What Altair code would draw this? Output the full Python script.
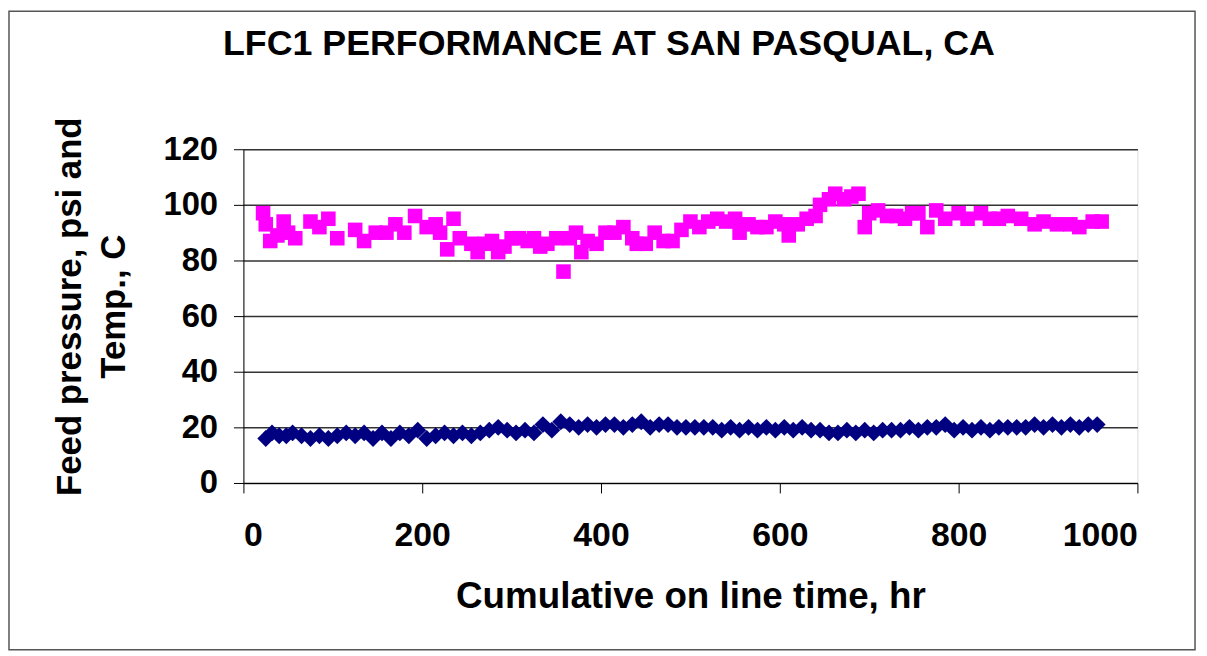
import altair as alt
import pandas as pd

# Feed pressure (psi) series - magenta squares
press_x = [22, 25, 30, 38, 45, 50, 58, 75, 85, 95, 105, 125, 135, 148, 160, 170, 180, 192, 205,
           215, 220, 228, 235, 242, 255, 262, 270, 278, 285, 292, 300, 308, 318, 325, 332, 340,
           350, 358, 365, 372, 378, 385, 395, 405, 415, 425, 435, 440, 450, 460, 470, 480, 490,
           500, 510, 520, 530, 540, 550, 555, 565, 575, 585, 595, 605, 610, 620, 630, 640, 645,
           655, 662, 672, 680, 688, 695, 700, 710, 720, 730, 740, 748, 755, 765, 775, 785, 800,
           810, 825, 835, 845, 855, 870, 885, 895, 910, 925, 935, 950, 960]
press_y = [97, 93, 87, 89, 94, 90, 88, 94, 92, 95, 88, 91, 87, 90, 90, 93, 90, 96, 92,
           93, 90, 84, 95, 88, 86, 83, 86, 87, 83, 85, 88, 88, 87, 88, 85, 86,
           88, 76, 88, 90, 83, 87, 86, 90, 90, 92, 88, 86, 86, 90, 87, 87, 91,
           94, 92, 94, 95, 94, 95, 90, 93, 92, 92, 94, 93, 89, 93, 95, 96, 100,
           102, 104, 102, 103, 104, 92, 97, 98, 96, 96, 95, 97, 97, 92, 98, 95, 97,
           95, 97, 95, 95, 96, 95, 93, 94, 93, 93, 92, 94, 94]

# Temperature (C) series - navy diamonds
temp_x = [25, 32, 40, 48, 55, 65, 75, 85, 95, 105, 115, 125, 135, 145, 155, 165, 175, 185, 195,
          205, 215, 225, 235, 245, 255, 265, 275, 285, 295, 305, 315, 325, 335, 345, 355, 365,
          375, 385, 395, 405, 415, 425, 435, 445, 455, 465, 475, 485, 495, 505, 515, 525, 535,
          545, 555, 565, 575, 585, 595, 605, 615, 625, 635, 645, 655, 665, 675, 685, 695, 705,
          715, 725, 735, 745, 755, 765, 775, 785, 795, 805, 815, 825, 835, 845, 855, 865, 875,
          885, 895, 905, 915, 925, 935, 945, 955]
temp_y = [16, 18, 17, 17, 18, 17, 16, 17, 16, 17, 18, 17, 18, 16, 18, 16, 18, 17, 19,
          16, 17, 18, 17, 18, 17, 18, 19, 20, 19, 18, 19, 18, 21, 19, 22, 21,
          20, 21, 20, 21, 21, 20, 21, 22, 20, 21, 21, 20, 20, 20, 20, 20, 19,
          20, 19, 20, 19, 20, 19, 20, 19, 20, 19, 19, 18, 18, 19, 18, 19, 18,
          19, 19, 19, 20, 19, 20, 20, 21, 19, 20, 19, 20, 19, 20, 20, 20, 20,
          21, 20, 21, 20, 21, 20, 21, 21]

x_ticks = [0, 200, 400, 600, 800, 1000]
y_ticks = [0, 20, 40, 60, 80, 100, 120]
chart_title = "LFC1 PERFORMANCE AT SAN PASQUAL, CA"

press_df = pd.DataFrame({"x": press_x, "y": press_y})
temp_df = pd.DataFrame({"x": temp_x, "y": temp_y})

FONT = "Liberation Sans"

xscale = alt.Scale(domain=[0, 1000], nice=False, zero=False)
yscale = alt.Scale(domain=[0, 120], nice=False)

xaxis = alt.Axis(values=x_ticks, format="d", title="Cumulative on line time, hr", grid=False,
                 labelFont=FONT, labelFontSize=34, labelFontWeight="bold", labelColor="black",
                 labelPadding=26, tickColor="black", tickSize=10, domainColor="black",
                 titleFont=FONT, titleFontSize=37, titleFontWeight="bold", titleColor="black",
                 titlePadding=26)
yaxis = alt.Axis(values=y_ticks, title=["Feed pressure, psi and", "Temp., C"], grid=True,
                 gridColor="#333333", gridWidth=1.5,
                 labelFont=FONT, labelFontSize=33, labelFontWeight="bold", labelColor="black",
                 labelPadding=16, tickColor="black", tickSize=10, domainColor="black",
                 titleFont=FONT, titleFontSize=35, titleFontWeight="bold", titleColor="black",
                 titlePadding=32, titleLineHeight=44, titleY=158)

temp = alt.Chart(temp_df).mark_point(shape="diamond", filled=True, size=289, opacity=1,
                                     color="#000080").encode(
    x=alt.X("x:Q", scale=xscale, axis=xaxis),
    y=alt.Y("y:Q", scale=yscale, axis=yaxis),
)
press = alt.Chart(press_df).mark_point(shape="square", filled=True, size=215, opacity=1,
                                       color="#FF00FF").encode(
    x=alt.X("x:Q", scale=xscale, axis=xaxis),
    y=alt.Y("y:Q", scale=yscale, axis=yaxis),
)

one = pd.DataFrame({"t": [chart_title]})

title = alt.Chart(one).mark_text(
    font=FONT, fontSize=36, fontWeight="bold", color="black", align="center",
    baseline="alphabetic"
).encode(text="t:N", x=alt.value(368), y=alt.value(-95))

border = alt.Chart(one).mark_rect(
    fill=None, stroke="#555555", strokeWidth=1.5
).encode(
    x=alt.value(-236), x2=alt.value(958), y=alt.value(-139), y2=alt.value(504)
)

chart = alt.layer(temp, press, title, border).properties(
    width=900, height=336,
    padding={"left": 237, "top": 140, "right": 62, "bottom": 172},
    autosize=alt.AutoSizeParams(type="none"),
).configure_view(stroke="#777777", strokeWidth=1).configure(background="white")

chart.save("out.html", embed_options={"renderer": "svg", "actions": False})
